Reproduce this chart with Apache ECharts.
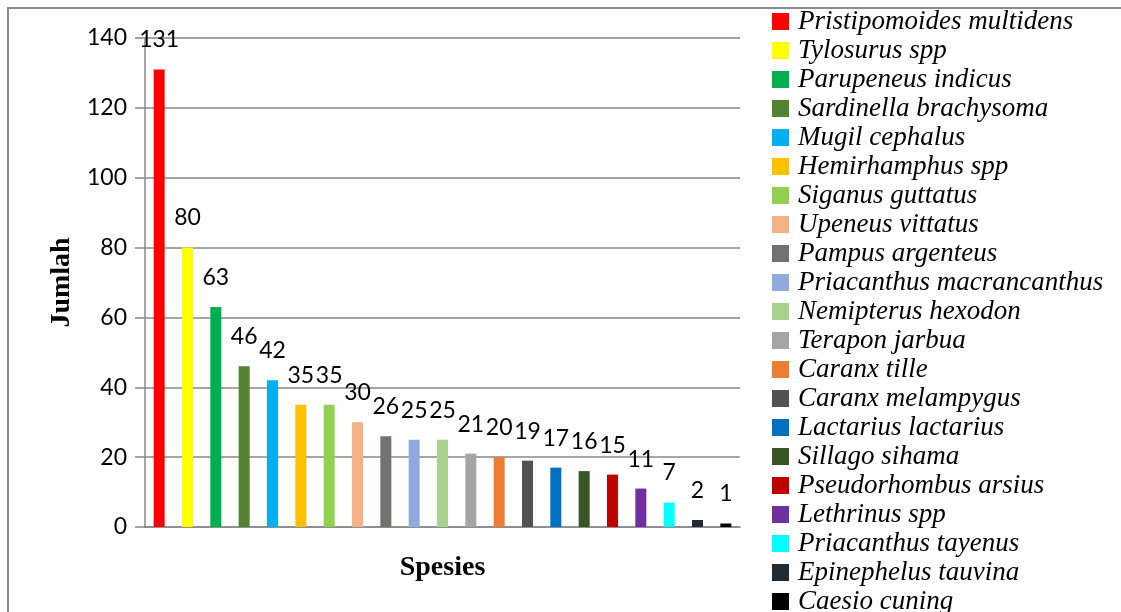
<!DOCTYPE html>
<html>
<head>
<meta charset="utf-8">
<script src="https://cdn.jsdelivr.net/npm/echarts@6/dist/echarts.min.js"></script>
<style>html,body{margin:0;padding:0;background:#fff}#c{width:1121px;height:612px}</style>
</head>
<body>
<div id="c"></div>
<script>
const species = ["Pristipomoides multidens","Tylosurus spp","Parupeneus indicus","Sardinella brachysoma","Mugil cephalus","Hemirhamphus spp","Siganus guttatus","Upeneus vittatus","Pampus argenteus","Priacanthus macrancanthus","Nemipterus hexodon","Terapon jarbua","Caranx tille","Caranx melampygus","Lactarius lactarius","Sillago sihama","Pseudorhombus arsius","Lethrinus spp","Priacanthus tayenus","Epinephelus tauvina","Caesio cuning"];
const values = [131,80,63,46,42,35,35,30,26,25,25,21,20,19,17,16,15,11,7,2,1];
const colors = ["#FF0000","#FFFF00","#00B050","#548235","#00B0F0","#FFC000","#92D050","#F4B183","#767171","#8FAADC","#A9D18E","#A5A5A5","#ED7D31","#525252","#0070C0","#375623","#C00000","#7030A0","#00FFFF","#222A35","#000000"];
const yTicks = {min:0, max:140, interval:20};

const chart = echarts.init(document.getElementById('c'));
const numFont = 'Lato, "Open Sans", sans-serif';
const serif = '"Liberation Serif", "Times New Roman", serif';
chart.setOption({
  animation:false,
  backgroundColor:'#fff',
  graphic:[{type:'rect', shape:{x:8,y:8,width:1300,height:800}, style:{fill:'none', stroke:'#8c8c8c', lineWidth:2}, silent:true}],
  grid:{left:145, top:38, right:381, bottom:85},
  legend:{
    orient:'vertical', left:772, top:8, height:700, itemWidth:17, itemHeight:17, itemGap:2,
    icon:'rect', selectedMode:false, padding:0,
    textStyle:{fontFamily:serif, fontStyle:'italic', fontSize:27, color:'#000', padding:[0,0,0,4]},
    data:species
  },
  xAxis:{
    type:'category', data:species, boundaryGap:true,
    axisLine:{lineStyle:{color:'#888', width:1.5}},
    axisTick:{show:false}, axisLabel:{show:false},
    name:'Spesies', nameLocation:'middle', nameGap:27,
    nameTextStyle:{fontFamily:serif, fontWeight:'bold', fontSize:28, color:'#000'}
  },
  yAxis:{
    type:'value', min:yTicks.min, max:yTicks.max, interval:yTicks.interval,
    axisLine:{show:true, lineStyle:{color:'#888', width:1.5}},
    axisTick:{show:true, length:10, lineStyle:{color:'#888', width:1.5}},
    axisLabel:{fontFamily:numFont, fontSize:23, color:'#000', margin:18},
    splitLine:{lineStyle:{color:'#888', width:1.5}},
    name:'Jumlah', nameLocation:'middle', nameGap:69,
    nameTextStyle:{fontFamily:serif, fontWeight:'bold', fontSize:28, color:'#000'}
  },
  series: species.map((name,i)=>({
    name:name, type:'bar', barWidth:11, barGap:'-100%',
    data: values.map((v,j)=> j===i ? v : null),
    itemStyle:{color:colors[i]},
    label:{show:true, position:'top', distance:18, fontFamily:numFont, fontSize:23, color:'#000'}
  }))
});
</script>
</body>
</html>
